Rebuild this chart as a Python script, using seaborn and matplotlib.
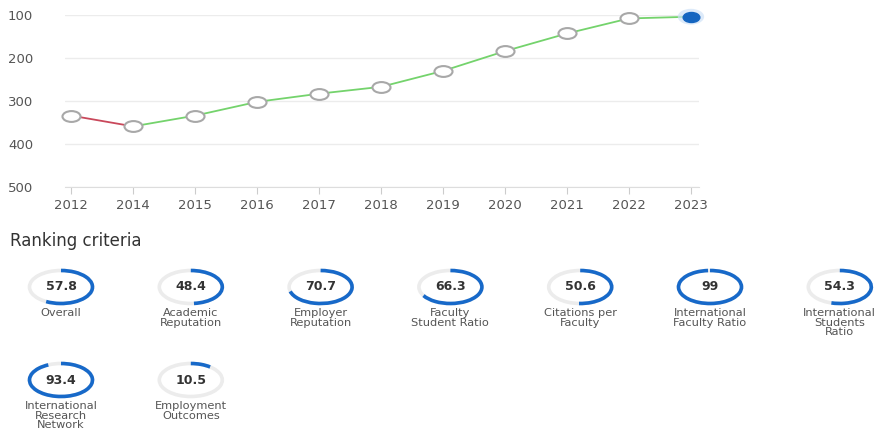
import numpy as np
import pandas as pd
import matplotlib
matplotlib.use('Agg')
import matplotlib.pyplot as plt
import seaborn as sns
from matplotlib.patches import Arc
from matplotlib.path import Path
from matplotlib.transforms import Affine2D
from matplotlib.markers import MarkerStyle

# rank history (lower is better)
years = ['2012', '2014', '2015', '2016', '2017', '2018', '2019', '2020', '2021', '2022', '2023']
ranks = [334, 359, 334, 302, 283, 267, 230, 184, 143, 108, 104]

# ranking criteria scores
criteria = ['Overall', 'Academic\nReputation', 'Employer\nReputation', 'Faculty\nStudent Ratio',
            'Citations per\nFaculty', 'International\nFaculty Ratio', 'International\nStudents\nRatio',
            'International\nResearch\nNetwork', 'Employment\nOutcomes']
scores = [57.8, 48.4, 70.7, 66.3, 50.6, 99, 54.3, 93.4, 10.5]
score_text = ['57.8', '48.4', '70.7', '66.3', '50.6', '99', '54.3', '93.4', '10.5']

sns.set_style('white')
plt.rcParams['font.family'] = ['DejaVu Sans']

W, H = 883, 434
fig = plt.figure(figsize=(W / 100, H / 100), dpi=100)

# ---- rank line chart ----
ax = fig.add_axes([65 / W, 1 - 187 / H, (699 - 65) / W, (187 - 15) / H])

df = pd.DataFrame({'year': years, 'rank': ranks})
df['pos'] = np.arange(len(df))

rows = []
for i in range(len(df) - 1):
    trend = 'worse' if ranks[i + 1] > ranks[i] else 'better'
    for j in (i, i + 1):
        rows.append({'seg': i, 'pos': j, 'rank': ranks[j], 'trend': trend})
seg_df = pd.DataFrame(rows)

sns.lineplot(data=seg_df, x='pos', y='rank', hue='trend', units='seg', estimator=None,
             palette={'worse': '#c9485b', 'better': '#74d36c'}, linewidth=1.3,
             legend=False, ax=ax, zorder=2)

ell = MarkerStyle(Path.unit_circle().transformed(Affine2D().scale(1.0, 0.6)))
sns.scatterplot(data=df.iloc[:-1], x='pos', y='rank', marker=ell, s=13 ** 2,
                color='white', edgecolor='#a8a8a8', linewidth=1.5, zorder=3,
                clip_on=False, ax=ax)
last = df.iloc[[-1]]
sns.scatterplot(data=last, x='pos', y='rank', marker=ell, s=19 ** 2, color='#cfe2f7',
                edgecolor='none', alpha=0.7, zorder=3, clip_on=False, ax=ax)
sns.scatterplot(data=last, x='pos', y='rank', marker=ell, s=12 ** 2, color='#1565c0',
                edgecolor='#1565c0', linewidth=1, zorder=4, clip_on=False, ax=ax)

ax.set_xlim(-0.1, 10.13)
ax.set_ylim(500, 100)
ax.set_yticks([100, 200, 300, 400, 500])
ax.set_xticks(df['pos'])
ax.set_xticklabels(years)
ax.set_xlabel('')
ax.set_ylabel('')
ax.grid(axis='y', color='#ececec', linewidth=1)
ax.grid(axis='x', visible=False)
for s in ['left', 'top', 'right']:
    ax.spines[s].set_visible(False)
ax.spines['bottom'].set_color('#dddddd')
ax.tick_params(axis='x', length=5, color='#cccccc', labelsize=9.5, labelcolor='#555555', pad=4, bottom=True)
ax.tick_params(axis='y', length=0, labelsize=9.5, labelcolor='#555555', pad=23)

# ---- ranking criteria rings ----
fig.text(10 / W, 1 - 241 / H, 'Ranking criteria', va='center', ha='left', fontsize=12, color='#333333')

a, b = 31.5, 16.5
for i, (lab, val, txt) in enumerate(zip(criteria, scores, score_text)):
    col, row = i % 7, i // 7
    cx = 61 + 129.8 * col
    cy = 287 + 93 * row
    rax = fig.add_axes([(cx - a * 1.2) / W, 1 - (cy + b * 1.2) / H, a * 2.4 / W, b * 2.4 / H])
    rax.set_xlim(-1.2, 1.2)
    rax.set_ylim(-1.2, 1.2)
    rax.axis('off')
    rax.add_patch(Arc((0, 0), 2, 2, theta1=0, theta2=360, color='#ececec', lw=2.6))
    rax.add_patch(Arc((0, 0), 2, 2, theta1=90 - 360 * val / 100, theta2=90,
                      color='#1769c9', lw=2.6, capstyle='butt'))
    rax.text(0, 0, txt, ha='center', va='center', fontsize=9, fontweight='bold', color='#333333')
    fig.text(cx / W, 1 - (308 + 93 * row) / H, lab, ha='center', va='top', fontsize=8.2,
             linespacing=0.95, color='#555555')

fig.savefig('out.png', dpi=100)
